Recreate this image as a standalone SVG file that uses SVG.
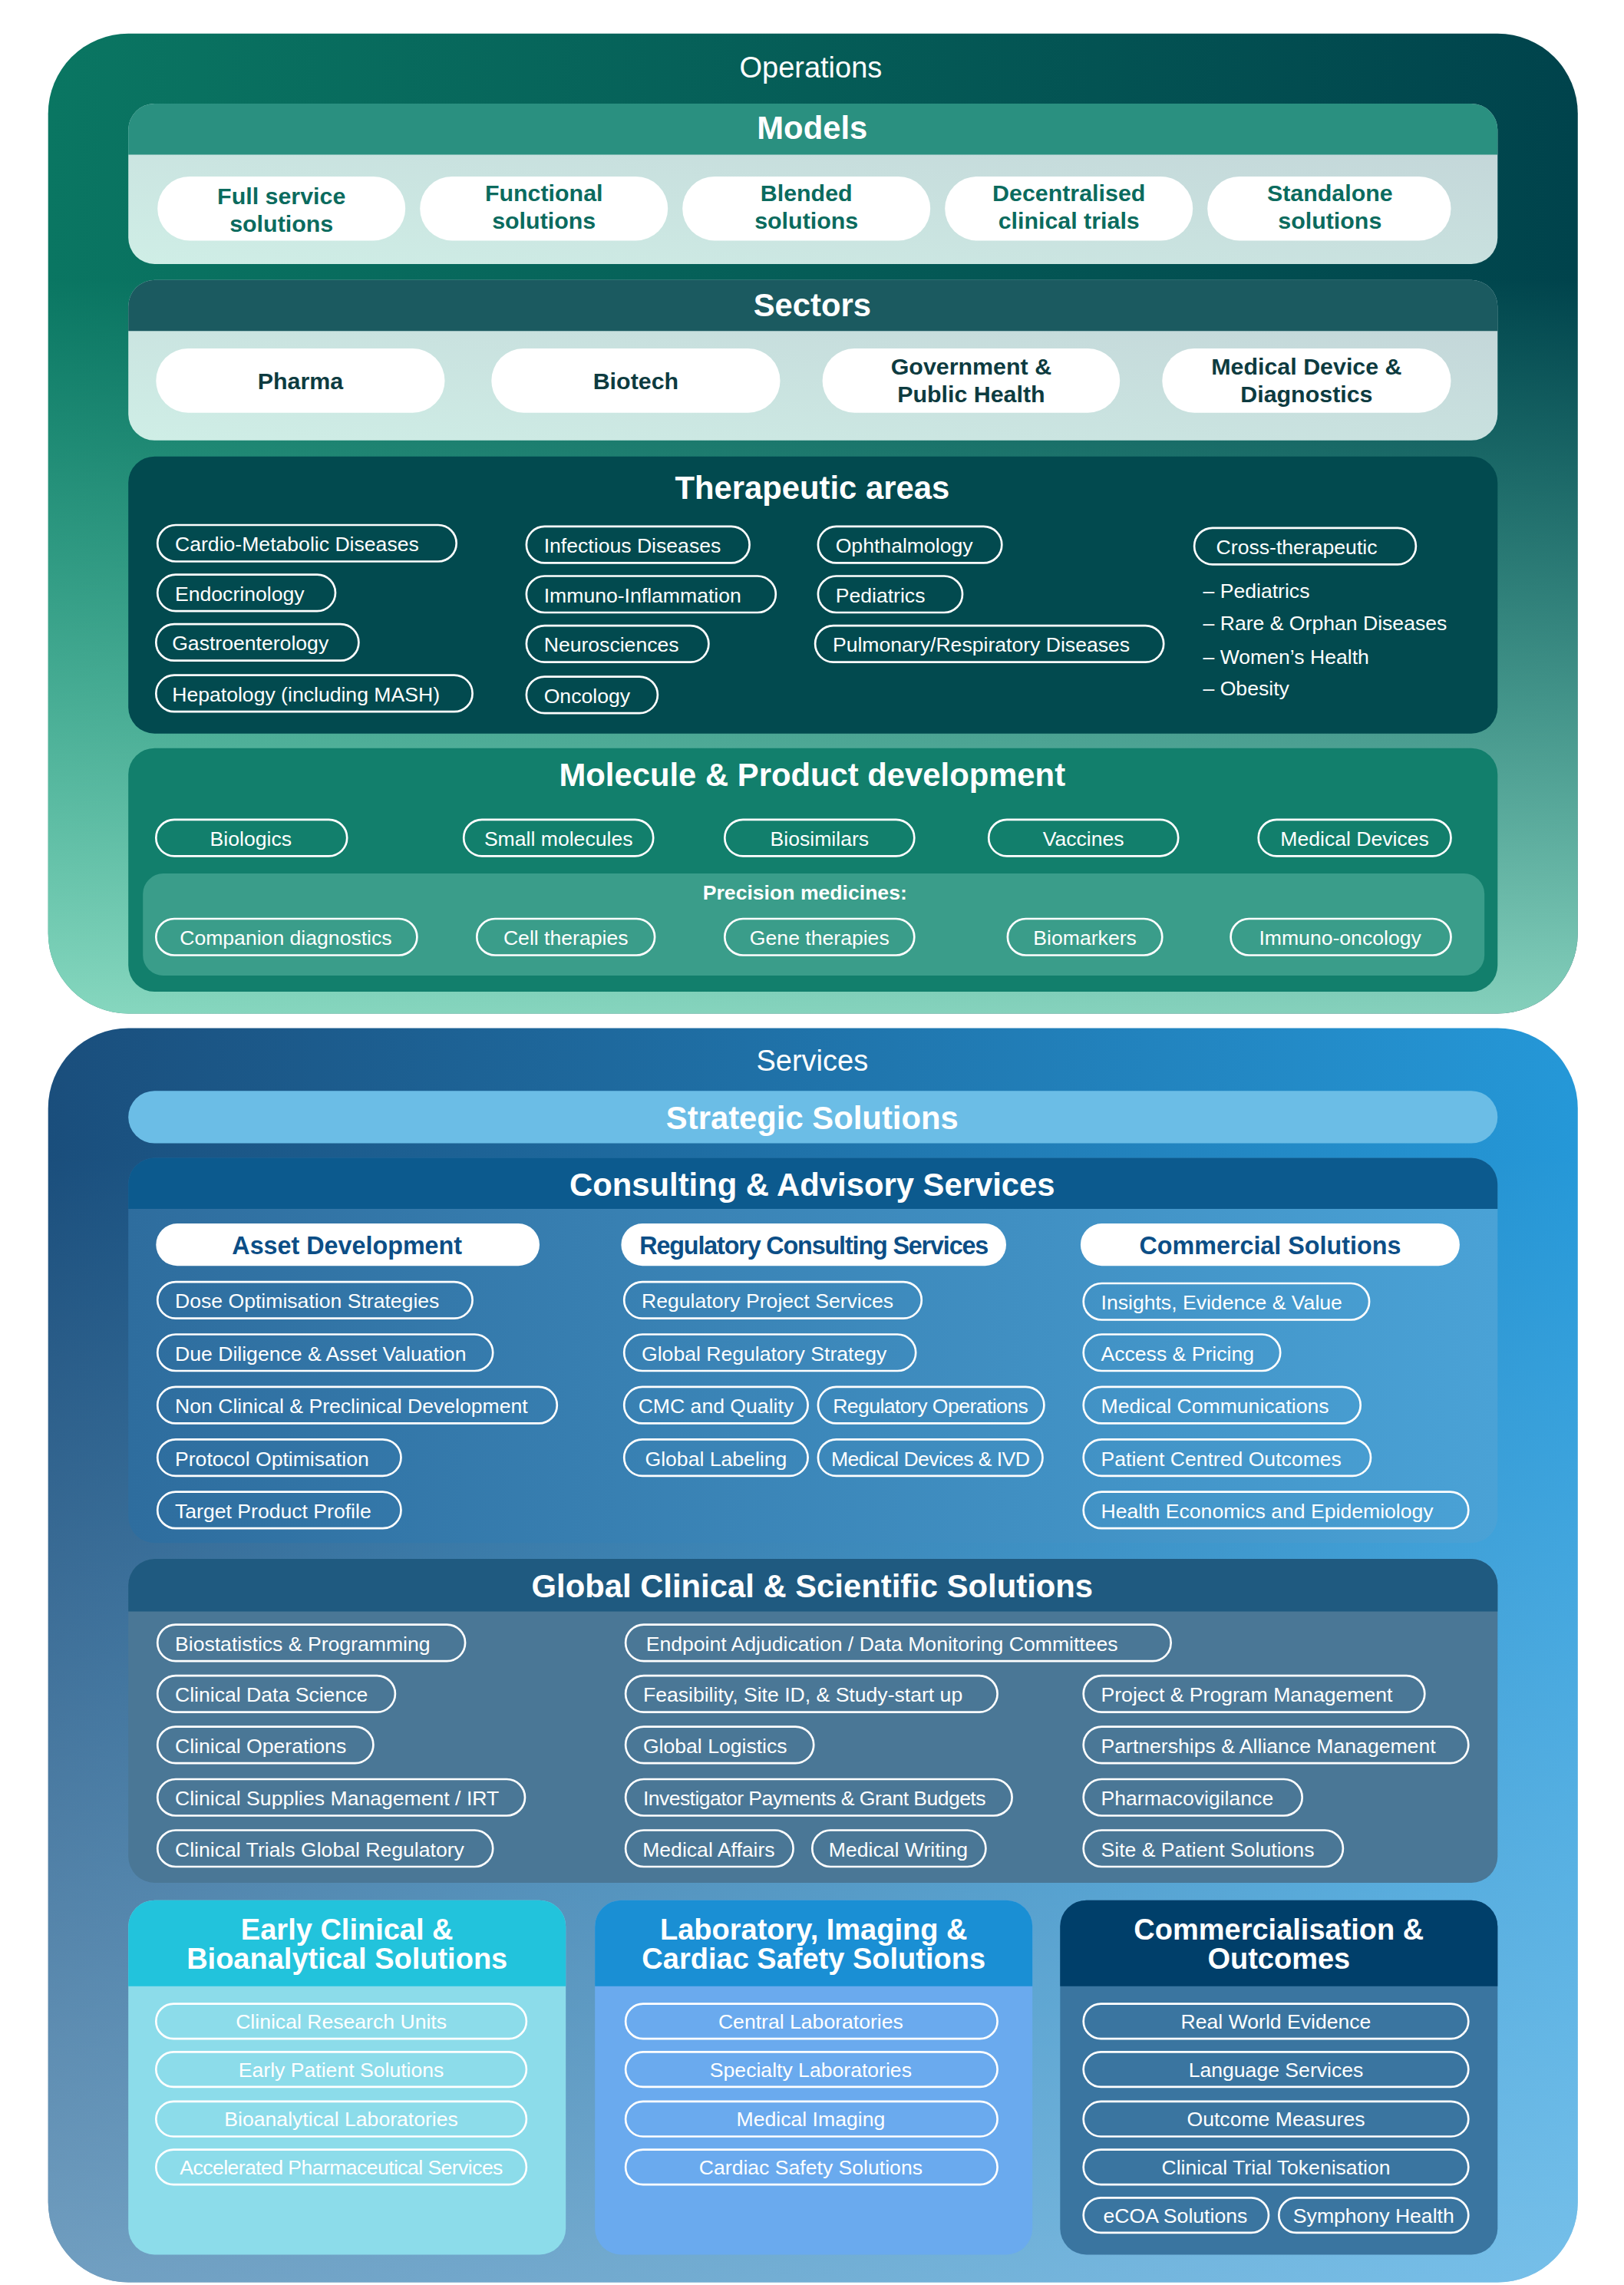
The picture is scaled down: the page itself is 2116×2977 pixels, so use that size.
<svg xmlns="http://www.w3.org/2000/svg" width="2116" height="2977" viewBox="0 0 2116 2977">
<defs>
<linearGradient id="gOpsH" x1="0" y1="0" x2="1" y2="0"><stop offset="0" stop-color="#0a7662"/><stop offset="1" stop-color="#00434c"/></linearGradient>
<linearGradient id="gOpsV" x1="0" y1="0" x2="0" y2="1"><stop offset="0.25" stop-color="#6ee6c2" stop-opacity="0"/><stop offset="1" stop-color="#9ce8cf" stop-opacity="0.85"/></linearGradient>
<linearGradient id="gLight" x1="0" y1="1" x2="1" y2="0"><stop offset="0" stop-color="#cfeee6"/><stop offset="1" stop-color="#c2d3d7"/></linearGradient>
<linearGradient id="gSrvH" x1="0" y1="0" x2="1" y2="0"><stop offset="0" stop-color="#1a4e7c"/><stop offset="1" stop-color="#2598d8"/></linearGradient>
<linearGradient id="gSrvV" x1="0" y1="0" x2="0" y2="1"><stop offset="0.1" stop-color="#b8e0f8" stop-opacity="0"/><stop offset="1" stop-color="#b8e0f8" stop-opacity="0.55"/></linearGradient>
<linearGradient id="gCons" x1="0" y1="0" x2="1" y2="0"><stop offset="0" stop-color="#2e6d9e"/><stop offset="1" stop-color="#4aa2d6"/></linearGradient>
<style>
text{font-family:"Liberation Sans",Arial,sans-serif}
.big{font-size:22px;font-weight:bold;fill:#fff;text-anchor:middle}
.cap{font-size:20px;fill:#fff;text-anchor:middle}
.op{fill:none;stroke:#fff;stroke-width:1.4}
.ot{font-size:14px;fill:#fff}
.oc{font-size:14px;fill:#fff;text-anchor:middle}
.wp{fill:#fff}
.mt{font-size:16px;font-weight:bold;fill:#0b6b5e;text-anchor:middle}
.st{font-size:16px;font-weight:bold;fill:#0d3b40;text-anchor:middle}
.ht{font-size:17px;font-weight:bold;fill:#0c4e86;text-anchor:middle}
.bt{font-size:20px;font-weight:bold;fill:#fff;text-anchor:middle}
</style>
</defs>
<g transform="scale(1.900)">
<g id="operations">
<rect x="33" y="23" width="1049" height="672" rx="55" fill="url(#gOpsH)"/>
<rect x="33" y="23" width="1049" height="672" rx="55" fill="url(#gOpsV)"/>
<text x="556" y="53" class="cap">Operations</text>
</g>
<g id="models">
<rect x="88" y="71" width="939" height="110" rx="18" fill="url(#gLight)"/>
<path d="M88 106 V89 A18 18 0 0 1 106 71 H1009 A18 18 0 0 1 1027 89 V106 Z" fill="#2a9080"/>
<text x="557" y="95" class="big">Models</text>
<rect x="108" y="121" width="170" height="44" rx="22" class="wp"/><text x="193" y="140" class="mt">Full service</text><text x="193" y="159" class="mt">solutions</text>
<rect x="288" y="121" width="170" height="44" rx="22" class="wp"/><text x="373" y="138" class="mt">Functional</text><text x="373" y="157" class="mt">solutions</text>
<rect x="468" y="121" width="170" height="44" rx="22" class="wp"/><text x="553" y="138" class="mt">Blended</text><text x="553" y="157" class="mt">solutions</text>
<rect x="648" y="121" width="170" height="44" rx="22" class="wp"/><text x="733" y="138" class="mt">Decentralised</text><text x="733" y="157" class="mt">clinical trials</text>
<rect x="828" y="121" width="167" height="44" rx="22" class="wp"/><text x="912" y="138" class="mt">Standalone</text><text x="912" y="157" class="mt">solutions</text>
</g>
<g id="sectors">
<rect x="88" y="192" width="939" height="110" rx="18" fill="url(#gLight)"/>
<path d="M88 227 V210 A18 18 0 0 1 106 192 H1009 A18 18 0 0 1 1027 210 V227 Z" fill="#1b5a60"/>
<text x="557" y="217" class="big">Sectors</text>
<rect x="107" y="239" width="198" height="44" rx="22" class="wp"/><text x="206" y="267" class="st">Pharma</text>
<rect x="337" y="239" width="198" height="44" rx="22" class="wp"/><text x="436" y="267" class="st">Biotech</text>
<rect x="564" y="239" width="204" height="44" rx="22" class="wp"/><text x="666" y="257" class="st">Government &amp;</text><text x="666" y="276" class="st">Public Health</text>
<rect x="797" y="239" width="198" height="44" rx="22" class="wp"/><text x="896" y="257" class="st">Medical Device &amp;</text><text x="896" y="276" class="st">Diagnostics</text>
</g>
<g id="therapeutic">
<rect x="88" y="313" width="939" height="190" rx="18" fill="#024a4f"/>
<text x="557" y="342" class="big">Therapeutic areas</text>
<rect x="108" y="360" width="205" height="25" rx="12.5" class="op"/><text x="120" y="378" class="ot">Cardio-Metabolic Diseases</text>
<rect x="108" y="394" width="122" height="25" rx="12.5" class="op"/><text x="120" y="412" class="ot">Endocrinology</text>
<rect x="107" y="428" width="139" height="25" rx="12.5" class="op"/><text x="118" y="446" class="ot">Gastroenterology</text>
<rect x="107" y="463" width="217" height="25" rx="12.5" class="op"/><text x="118" y="481" class="ot">Hepatology (including MASH)</text>
<rect x="361" y="361" width="153" height="25" rx="12.5" class="op"/><text x="373" y="379" class="ot">Infectious Diseases</text>
<rect x="361" y="395" width="171" height="25" rx="12.5" class="op"/><text x="373" y="413" class="ot">Immuno-Inflammation</text>
<rect x="361" y="429" width="125" height="25" rx="12.5" class="op"/><text x="373" y="447" class="ot">Neurosciences</text>
<rect x="361" y="464" width="90" height="25" rx="12.5" class="op"/><text x="373" y="482" class="ot">Oncology</text>
<rect x="561" y="361" width="126" height="25" rx="12.5" class="op"/><text x="573" y="379" class="ot">Ophthalmology</text>
<rect x="561" y="395" width="99" height="25" rx="12.5" class="op"/><text x="573" y="413" class="ot">Pediatrics</text>
<rect x="559" y="429" width="239" height="25" rx="12.5" class="op"/><text x="571" y="447" class="ot">Pulmonary/Respiratory Diseases</text>
<rect x="819" y="362" width="152" height="25" rx="12.5" class="op"/><text x="834" y="380" class="ot">Cross-therapeutic</text>
<text x="825" y="410" class="ot">– Pediatrics</text>
<text x="825" y="432" class="ot">– Rare &amp; Orphan Diseases</text>
<text x="825" y="455" class="ot">– Women’s Health</text>
<text x="825" y="477" class="ot">– Obesity</text>
</g>
<g id="molecule">
<rect x="88" y="513" width="939" height="167" rx="18" fill="#127f6c"/>
<text x="557" y="539" class="big">Molecule &amp; Product development</text>
<rect x="107" y="562" width="131" height="25" rx="12.5" class="op"/><text x="172" y="580" class="oc">Biologics</text>
<rect x="318" y="562" width="130" height="25" rx="12.5" class="op"/><text x="383" y="580" class="oc">Small molecules</text>
<rect x="497" y="562" width="130" height="25" rx="12.5" class="op"/><text x="562" y="580" class="oc">Biosimilars</text>
<rect x="678" y="562" width="130" height="25" rx="12.5" class="op"/><text x="743" y="580" class="oc">Vaccines</text>
<rect x="863" y="562" width="132" height="25" rx="12.5" class="op"/><text x="929" y="580" class="oc">Medical Devices</text>
<rect x="98" y="599" width="920" height="70" rx="14" fill="#3a9d8a"/>
<text x="552" y="617" class="oc" font-weight="bold">Precision medicines:</text>
<rect x="107" y="630" width="179" height="25" rx="12.5" class="op"/><text x="196" y="648" class="oc">Companion diagnostics</text>
<rect x="327" y="630" width="122" height="25" rx="12.5" class="op"/><text x="388" y="648" class="oc">Cell therapies</text>
<rect x="497" y="630" width="130" height="25" rx="12.5" class="op"/><text x="562" y="648" class="oc">Gene therapies</text>
<rect x="691" y="630" width="106" height="25" rx="12.5" class="op"/><text x="744" y="648" class="oc">Biomarkers</text>
<rect x="844" y="630" width="151" height="25" rx="12.5" class="op"/><text x="919" y="648" class="oc">Immuno-oncology</text>
</g>
<g id="services">
<rect x="33" y="705" width="1049" height="860" rx="55" fill="url(#gSrvH)"/>
<rect x="33" y="705" width="1049" height="860" rx="55" fill="url(#gSrvV)"/>
<text x="557" y="734" class="cap">Services</text>
</g>
<g id="strategic">
<rect x="88" y="748" width="939" height="36" rx="18" fill="#6bbde6"/>
<text x="557" y="774" class="big">Strategic Solutions</text>
</g>
<g id="consulting">
<rect x="88" y="794" width="939" height="264" rx="18" fill="url(#gCons)"/>
<path d="M88 829 V812 A18 18 0 0 1 106 794 H1009 A18 18 0 0 1 1027 812 V829 Z" fill="#0c5a8e"/>
<text x="557" y="820" class="big">Consulting &amp; Advisory Services</text>
<rect x="107" y="839" width="263" height="29" rx="14.5" class="wp"/><text x="238" y="860" class="ht">Asset Development</text>
<rect x="426" y="839" width="264" height="29" rx="14.5" class="wp"/><text x="558" y="860" class="ht" letter-spacing="-0.6">Regulatory Consulting Services</text>
<rect x="741" y="839" width="260" height="29" rx="14.5" class="wp"/><text x="871" y="860" class="ht">Commercial Solutions</text>
<rect x="108" y="879" width="216" height="25" rx="12.5" class="op"/><text x="120" y="897" class="ot">Dose Optimisation Strategies</text>
<rect x="108" y="915" width="230" height="25" rx="12.5" class="op"/><text x="120" y="933" class="ot">Due Diligence &amp; Asset Valuation</text>
<rect x="108" y="951" width="274" height="25" rx="12.5" class="op"/><text x="120" y="969" class="ot">Non Clinical &amp; Preclinical Development</text>
<rect x="108" y="987" width="167" height="25" rx="12.5" class="op"/><text x="120" y="1005" class="ot">Protocol Optimisation</text>
<rect x="108" y="1023" width="167" height="25" rx="12.5" class="op"/><text x="120" y="1041" class="ot">Target Product Profile</text>
<rect x="428" y="879" width="204" height="25" rx="12.5" class="op"/><text x="440" y="897" class="ot">Regulatory Project Services</text>
<rect x="428" y="915" width="200" height="25" rx="12.5" class="op"/><text x="440" y="933" class="ot">Global Regulatory Strategy</text>
<rect x="428" y="951" width="126" height="25" rx="12.5" class="op"/><text x="491" y="969" class="oc">CMC and Quality</text>
<rect x="561" y="951" width="155" height="25" rx="12.5" class="op"/><text x="638" y="969" class="oc" letter-spacing="-0.3">Regulatory Operations</text>
<rect x="428" y="987" width="126" height="25" rx="12.5" class="op"/><text x="491" y="1005" class="oc">Global Labeling</text>
<rect x="561" y="987" width="154" height="25" rx="12.5" class="op"/><text x="638" y="1005" class="oc" letter-spacing="-0.3">Medical Devices &amp; IVD</text>
<rect x="743" y="880" width="196" height="25" rx="12.5" class="op"/><text x="755" y="898" class="ot">Insights, Evidence &amp; Value</text>
<rect x="743" y="915" width="135" height="25" rx="12.5" class="op"/><text x="755" y="933" class="ot">Access &amp; Pricing</text>
<rect x="743" y="951" width="190" height="25" rx="12.5" class="op"/><text x="755" y="969" class="ot">Medical Communications</text>
<rect x="743" y="987" width="197" height="25" rx="12.5" class="op"/><text x="755" y="1005" class="ot">Patient Centred Outcomes</text>
<rect x="743" y="1023" width="264" height="25" rx="12.5" class="op"/><text x="755" y="1041" class="ot">Health Economics and Epidemiology</text>
</g>
<g id="global-clinical">
<rect x="88" y="1069" width="939" height="222" rx="18" fill="#4a7796"/>
<path d="M88 1105 V1087 A18 18 0 0 1 106 1069 H1009 A18 18 0 0 1 1027 1087 V1105 Z" fill="#1f5a80"/>
<text x="557" y="1095" class="big">Global Clinical &amp; Scientific Solutions</text>
<rect x="108" y="1114" width="211" height="25" rx="12.5" class="op"/><text x="120" y="1132" class="ot">Biostatistics &amp; Programming</text>
<rect x="108" y="1149" width="163" height="25" rx="12.5" class="op"/><text x="120" y="1167" class="ot">Clinical Data Science</text>
<rect x="108" y="1184" width="148" height="25" rx="12.5" class="op"/><text x="120" y="1202" class="ot">Clinical Operations</text>
<rect x="108" y="1220" width="252" height="25" rx="12.5" class="op"/><text x="120" y="1238" class="ot">Clinical Supplies Management / IRT</text>
<rect x="108" y="1255" width="230" height="25" rx="12.5" class="op"/><text x="120" y="1273" class="ot">Clinical Trials Global Regulatory</text>
<rect x="429" y="1114" width="374" height="25" rx="12.5" class="op"/><text x="443" y="1132" class="ot">Endpoint Adjudication / Data Monitoring Committees</text>
<rect x="429" y="1149" width="255" height="25" rx="12.5" class="op"/><text x="441" y="1167" class="ot">Feasibility, Site ID, &amp; Study-start up</text>
<rect x="429" y="1184" width="129" height="25" rx="12.5" class="op"/><text x="441" y="1202" class="ot">Global Logistics</text>
<rect x="429" y="1220" width="265" height="25" rx="12.5" class="op"/><text x="441" y="1238" class="ot" letter-spacing="-0.3">Investigator Payments &amp; Grant Budgets</text>
<rect x="429" y="1255" width="115" height="25" rx="12.5" class="op"/><text x="486" y="1273" class="oc">Medical Affairs</text>
<rect x="557" y="1255" width="119" height="25" rx="12.5" class="op"/><text x="616" y="1273" class="oc">Medical Writing</text>
<rect x="743" y="1149" width="234" height="25" rx="12.5" class="op"/><text x="755" y="1167" class="ot">Project &amp; Program Management</text>
<rect x="743" y="1184" width="264" height="25" rx="12.5" class="op"/><text x="755" y="1202" class="ot">Partnerships &amp; Alliance Management</text>
<rect x="743" y="1220" width="150" height="25" rx="12.5" class="op"/><text x="755" y="1238" class="ot">Pharmacovigilance</text>
<rect x="743" y="1255" width="178" height="25" rx="12.5" class="op"/><text x="755" y="1273" class="ot">Site &amp; Patient Solutions</text>
</g>
<g id="early-clinical">
<rect x="88" y="1303" width="300" height="243" rx="18" fill="#8cdcea"/>
<path d="M88 1362 V1321 A18 18 0 0 1 106 1303 H370 A18 18 0 0 1 388 1321 V1362 Z" fill="#22c3dc"/>
<text x="238" y="1330" class="bt">Early Clinical &amp;</text><text x="238" y="1350" class="bt">Bioanalytical Solutions</text>
<rect x="107" y="1374" width="254" height="24" rx="12" class="op"/><text x="234" y="1391" class="oc">Clinical Research Units</text>
<rect x="107" y="1407" width="254" height="24" rx="12" class="op"/><text x="234" y="1424" class="oc">Early Patient Solutions</text>
<rect x="107" y="1441" width="254" height="24" rx="12" class="op"/><text x="234" y="1458" class="oc">Bioanalytical Laboratories</text>
<rect x="107" y="1474" width="254" height="24" rx="12" class="op"/><text x="234" y="1491" class="oc" letter-spacing="-0.3">Accelerated Pharmaceutical Services</text>
</g>
<g id="laboratory">
<rect x="408" y="1303" width="300" height="243" rx="18" fill="#6aaaee"/>
<path d="M408 1362 V1321 A18 18 0 0 1 426 1303 H690 A18 18 0 0 1 708 1321 V1362 Z" fill="#1a8fd4"/>
<text x="558" y="1330" class="bt">Laboratory, Imaging &amp;</text><text x="558" y="1350" class="bt">Cardiac Safety Solutions</text>
<rect x="429" y="1374" width="255" height="24" rx="12" class="op"/><text x="556" y="1391" class="oc">Central Laboratories</text>
<rect x="429" y="1407" width="255" height="24" rx="12" class="op"/><text x="556" y="1424" class="oc">Specialty Laboratories</text>
<rect x="429" y="1441" width="255" height="24" rx="12" class="op"/><text x="556" y="1458" class="oc">Medical Imaging</text>
<rect x="429" y="1474" width="255" height="24" rx="12" class="op"/><text x="556" y="1491" class="oc">Cardiac Safety Solutions</text>
</g>
<g id="commercialisation">
<rect x="727" y="1303" width="300" height="243" rx="18" fill="#3a75a0"/>
<path d="M727 1362 V1321 A18 18 0 0 1 745 1303 H1009 A18 18 0 0 1 1027 1321 V1362 Z" fill="#003f6a"/>
<text x="877" y="1330" class="bt">Commercialisation &amp;</text><text x="877" y="1350" class="bt">Outcomes</text>
<rect x="743" y="1374" width="264" height="24" rx="12" class="op"/><text x="875" y="1391" class="oc">Real World Evidence</text>
<rect x="743" y="1407" width="264" height="24" rx="12" class="op"/><text x="875" y="1424" class="oc">Language Services</text>
<rect x="743" y="1441" width="264" height="24" rx="12" class="op"/><text x="875" y="1458" class="oc">Outcome Measures</text>
<rect x="743" y="1474" width="264" height="24" rx="12" class="op"/><text x="875" y="1491" class="oc">Clinical Trial Tokenisation</text>
<rect x="743" y="1507" width="127" height="24" rx="12" class="op"/><text x="806" y="1524" class="oc">eCOA Solutions</text>
<rect x="877" y="1507" width="130" height="24" rx="12" class="op"/><text x="942" y="1524" class="oc">Symphony Health</text>
</g>
</g>
</svg>
